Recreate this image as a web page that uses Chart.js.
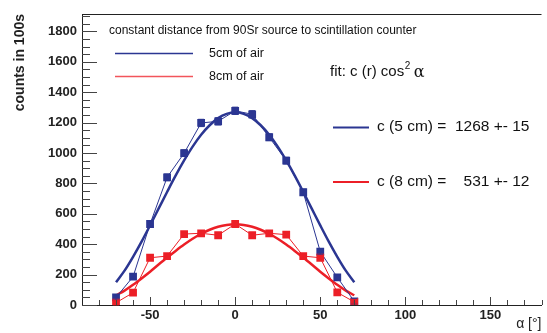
<!DOCTYPE html>
<html>
<head>
<meta charset="utf-8">
<script src="https://cdn.jsdelivr.net/npm/chart.js@4.4.1/dist/chart.umd.min.js"></script>
<style>
  html, body { margin: 0; padding: 0; background: #fff; }
  #wrap { width: 547px; height: 333px; }
</style>
</head>
<body>
<div id="wrap"><canvas id="myChart" width="547" height="333"></canvas></div>
<script>
// measured points (angle in degrees, counts in 100s)
const angles = [-70, -60, -50, -40, -30, -20, -10, 0, 10, 20, 30, 40, 50, 60, 70];
const blueCounts = [50, 186, 533, 840, 999, 1198, 1209, 1278, 1255, 1104, 950, 742, 351, 182, 24];
const blueErr = [18, 18, 20, 22, 22, 24, 24, 24, 24, 22, 22, 20, 20, 18, 18];
const redCounts = [15, 81, 311, 322, 467, 472, 459, 533, 459, 472, 463, 322, 311, 83, 20];
const redErr = [14, 14, 16, 16, 16, 16, 16, 16, 16, 16, 16, 16, 16, 14, 14];

// fit curves c(r) cos^2(alpha)
const fitAngles = [-70, -65, -60, -55, -50, -45, -40, -35, -30, -25, -20, -15, -10, -5, 0,
                   5, 10, 15, 20, 25, 30, 35, 40, 45, 50, 55, 60, 65, 70];
const blueFit = [150, 226, 317, 417, 524, 634, 744, 851, 951, 1042, 1120, 1183, 1230, 1258, 1268,
                 1258, 1230, 1183, 1120, 1042, 951, 851, 744, 634, 524, 417, 317, 226, 150];
const redFit = [64, 95, 133, 175, 219, 266, 312, 356, 398, 436, 469, 495, 515, 527, 531,
                527, 515, 495, 469, 436, 398, 356, 312, 266, 219, 175, 133, 95, 64];

// axes
const xTickValues = [-50, 0, 50, 100, 150];
const yTickValues = [0, 200, 400, 600, 800, 1000, 1200, 1400, 1600, 1800];

const blue = '#2b3692';
const red = '#ec1f27';
const font = "'Liberation Sans', Arial, sans-serif";

const toPoints = (xs, ys) => xs.map((x, i) => ({ x: x, y: ys[i] }));

// error bars, inner tick marks, frame and legend texts
const decorations = {
    id: 'decorations',
    afterDatasetsDraw(chart) {
        const ctx = chart.ctx;
        const xs = chart.scales.x;
        const ys = chart.scales.y;
        const area = chart.chartArea;

        ctx.save();
        // error bars
        [[blueCounts, blueErr, blue], [redCounts, redErr, red]].forEach(([vals, errs, col]) => {
            ctx.strokeStyle = col;
            ctx.lineWidth = 1;
            vals.forEach((v, i) => {
                const px = xs.getPixelForValue(angles[i]);
                const top = ys.getPixelForValue(v + errs[i]);
                const bot = ys.getPixelForValue(Math.max(0, v - errs[i]));
                ctx.beginPath();
                ctx.moveTo(px, top); ctx.lineTo(px, bot);
                ctx.moveTo(px - 3, top); ctx.lineTo(px + 3, top);
                ctx.moveTo(px - 3, bot); ctx.lineTo(px + 3, bot);
                ctx.stroke();
            });
        });

        // frame top line
        ctx.strokeStyle = '#222';
        ctx.lineWidth = 1;
        ctx.beginPath();
        ctx.moveTo(area.left, area.top + 0.5);
        ctx.lineTo(area.right, area.top + 0.5);
        ctx.stroke();

        // tick marks inside the frame
        ctx.strokeStyle = '#444';
        ctx.beginPath();
        for (let v = 0; v <= 1900; v += 50) {
            const py = Math.round(ys.getPixelForValue(v)) + 0.5;
            const len = v % 200 === 0 ? 15 : 8;
            ctx.moveTo(area.left, py);
            ctx.lineTo(area.left + len, py);
        }
        for (let v = -80; v <= 180; v += 10) {
            const px = Math.round(xs.getPixelForValue(v)) + 0.5;
            const len = v % 50 === 0 ? 8 : 5;
            ctx.moveTo(px, area.bottom);
            ctx.lineTo(px, area.bottom - len);
        }
        ctx.stroke();

        // legend, top left
        ctx.fillStyle = '#111';
        ctx.textBaseline = 'middle';
        ctx.textAlign = 'left';
        ctx.font = '12px ' + font;
        ctx.fillText('constant distance from 90Sr source to scintillation counter', 109, 31);
        ctx.font = '12.5px ' + font;
        ctx.fillText('5cm of air', 209, 54);
        ctx.fillText('8cm of air', 209, 77);
        ctx.lineWidth = 1.3;
        ctx.strokeStyle = blue;
        ctx.beginPath(); ctx.moveTo(115, 53.5); ctx.lineTo(193, 53.5); ctx.stroke();
        ctx.strokeStyle = '#f2555b';
        ctx.beginPath(); ctx.moveTo(115, 76.5); ctx.lineTo(193, 76.5); ctx.stroke();

        // fit formula
        ctx.font = '15px ' + font;
        let tx = 330;
        const head = 'fit: c (r) cos';
        ctx.fillText(head, tx, 72);
        tx += ctx.measureText(head).width;
        ctx.font = '10px ' + font;
        ctx.fillText('2', tx + 0.5, 66);
        tx += ctx.measureText('2').width + 4;
        ctx.font = '16px ' + "'DejaVu Serif', serif";
        ctx.fillText('α', tx, 73);

        // fit results
        ctx.font = '15.5px ' + font;
        ctx.fillText('c (5 cm) =  1268 +- 15', 377, 127);
        ctx.fillText('c (8 cm) =    531 +- 12', 377, 182);
        ctx.lineWidth = 2.2;
        ctx.strokeStyle = blue;
        ctx.beginPath(); ctx.moveTo(333, 127.5); ctx.lineTo(369, 127.5); ctx.stroke();
        ctx.strokeStyle = red;
        ctx.beginPath(); ctx.moveTo(333, 182); ctx.lineTo(369, 182); ctx.stroke();

        ctx.restore();
    }
};

const ctx = document.getElementById('myChart').getContext('2d');

const myChart = new Chart(ctx, {
    type: 'line',
    data: {
        datasets: [
            {
                label: 'red data',
                data: toPoints(angles, redCounts),
                borderColor: red,
                backgroundColor: red,
                borderWidth: 1,
                pointStyle: 'rect',
                pointRadius: 5.5,
                pointBorderWidth: 0,
                order: 1
            },
            {
                label: 'blue data',
                data: toPoints(angles, blueCounts),
                borderColor: blue,
                backgroundColor: blue,
                borderWidth: 1,
                pointStyle: 'rect',
                pointRadius: 5.5,
                pointBorderWidth: 0,
                order: 2
            },
            {
                label: 'c (8 cm)',
                data: toPoints(fitAngles, redFit),
                borderColor: red,
                borderWidth: 2.5,
                pointRadius: 0,
                cubicInterpolationMode: 'monotone',
                order: 3
            },
            {
                label: 'c (5 cm)',
                data: toPoints(fitAngles, blueFit),
                borderColor: blue,
                borderWidth: 2.5,
                pointRadius: 0,
                cubicInterpolationMode: 'monotone',
                order: 4
            }
        ]
    },
    options: {
        responsive: false,
        animation: false,
        layout: { padding: { left: 0, top: 14, right: 0, bottom: 0 } },
        plugins: {
            legend: { display: false },
            tooltip: { enabled: false }
        },
        scales: {
            x: {
                type: 'linear',
                min: -90,
                max: 180,
                grid: { display: false, drawTicks: false },
                border: { display: true, color: '#222', width: 1 },
                afterBuildTicks: scale => { scale.ticks = xTickValues.map(v => ({ value: v })); },
                afterFit: scale => { scale.height = 28; },
                ticks: {
                    padding: 3,
                    color: '#222',
                    callback: v => String(v),
                    font: { family: font, size: 13, weight: 'bold' }
                },
                title: {
                    display: true,
                    text: 'α [°]',
                    align: 'end',
                    color: '#222',
                    padding: { top: 0, bottom: 0 },
                    font: { family: font, size: 14 }
                }
            },
            y: {
                type: 'linear',
                min: 0,
                max: 1915,
                grid: { display: false, drawTicks: false },
                border: { display: true, color: '#222', width: 1 },
                afterBuildTicks: scale => { scale.ticks = yTickValues.map(v => ({ value: v })); },
                afterFit: scale => { scale.width = 82; },
                ticks: {
                    padding: 5,
                    color: '#222',
                    callback: v => String(v),
                    font: { family: font, size: 13, weight: 'bold' }
                },
                title: {
                    display: true,
                    text: 'counts in 100s',
                    align: 'end',
                    color: '#222',
                    padding: { top: 12, bottom: 0 },
                    font: { family: font, size: 14, weight: 'bold' }
                }
            }
        }
    },
    plugins: [decorations]
});
</script>
</body>
</html>
